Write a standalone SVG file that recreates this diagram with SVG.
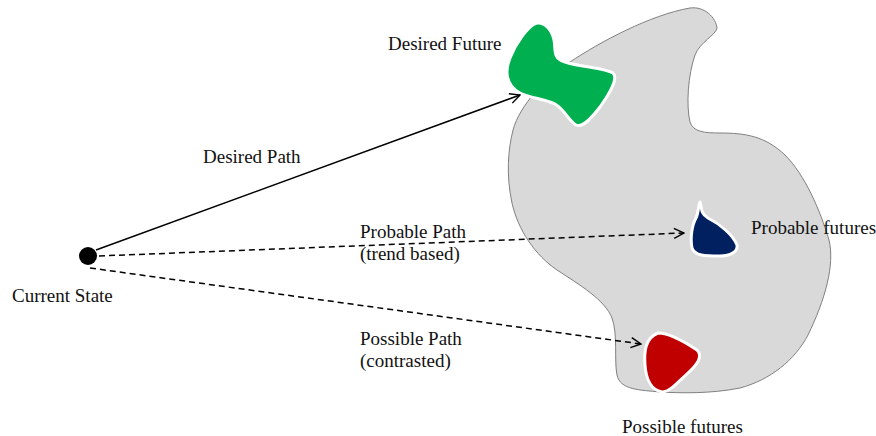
<svg xmlns="http://www.w3.org/2000/svg" width="876" height="436" viewBox="0 0 876 436">
  <defs>
    <marker id="arrow" viewBox="0 0 12 12" refX="11" refY="6" markerWidth="12" markerHeight="12" markerUnits="userSpaceOnUse" orient="auto">
      <path d="M1,1 L11,6 L1,11" fill="none" stroke="#000" stroke-width="1.4"/>
    </marker>
  </defs>
  <style>
    text { font-family: "Liberation Serif", "Times New Roman", serif; font-size: 19px; fill: #111; }
    .blob { stroke: #fff; stroke-width: 3; stroke-linejoin: round; }
    .path { fill: none; stroke: #000; stroke-width: 1.5; }
    .dash { stroke-dasharray: 6 4; }
  </style>

  <!-- futures region -->
  <g id="future-space">
    <path d="M570,62 C600,42 650,15 690,8 C705,6 716,18 717,28 C716,35 700,42 695,55 C688,75 686,105 690,122 C693,132 705,133 720,133 C745,133 765,136 785,155 C805,175 820,210 829,240 C835,265 825,300 808,335 C795,360 770,380 740,388 C710,394 680,393 660,392 C640,390 620,390 617,375 C614,360 618,335 612,318 C605,300 580,285 557,270 C535,255 518,230 512,203 C506,175 508,150 513,130 C520,105 545,78 570,62 Z" fill="#d9d9d9" stroke="#808080" stroke-width="1"/>
  </g>

  <g id="desired-future">
    <path class="blob" fill="#00b050" d="M537,23 C545,22 552,30 554,40 C556,50 552,58 565,62 C580,67 605,68 613,73 C618,78 612,90 600,107 C590,120 582,128 576,125 C568,120 565,110 555,104 C545,99 530,98 520,93 C505,85 505,70 510,58 C515,45 528,25 537,23 Z"/>
    <text x="388" y="50">Desired Future</text>
  </g>

  <g id="probable-futures">
    <path class="blob" fill="#002060" d="M700,202 C702,208 700,213 708,218 C720,224 733,235 737,245 C738,252 730,256 720,256 C705,256 695,256 692,248 C690,238 692,225 696,218 C699,212 698,205 700,202 Z"/>
    <text x="751" y="234">Probable futures</text>
  </g>

  <g id="possible-futures">
    <path class="blob" fill="#c00000" d="M658,333 C670,333 685,342 697,350 C703,356 698,364 688,373 C678,382 670,392 662,392 C652,390 646,380 645,365 C644,352 645,338 658,333 Z"/>
    <text x="622" y="433">Possible futures</text>
  </g>

  <g id="current-state">
    <circle cx="88" cy="256" r="9" fill="#000"/>
    <text x="12" y="302">Current State</text>
  </g>

  <!-- paths from the current state -->
  <g id="connectors">
    <line class="path" x1="96" y1="250" x2="520" y2="95" marker-end="url(#arrow)"/>
    <line class="path dash" x1="99" y1="256" x2="684" y2="233" marker-end="url(#arrow)"/>
    <line class="path dash" x1="90" y1="268" x2="641" y2="344" marker-end="url(#arrow)"/>
    <text x="203" y="163">Desired Path</text>
    <text x="360" y="238">Probable Path</text>
    <text x="360" y="260">(trend based)</text>
    <text x="360" y="345">Possible Path</text>
    <text x="360" y="367">(contrasted)</text>
  </g>
</svg>
